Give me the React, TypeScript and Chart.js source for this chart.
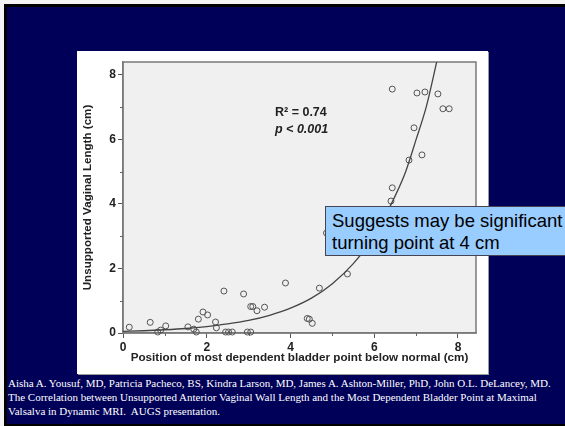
import React, { useEffect, useRef } from 'react';
import { Chart, registerables } from 'chart.js';

Chart.register(...registerables);

// Scatter data (cm)
const pointX = [0.15, 0.65, 0.83, 0.9, 1.02, 1.55, 1.69, 1.75, 1.8, 1.91, 2.02, 2.21, 2.23, 2.41, 2.45, 2.52, 2.61, 2.88, 2.97, 3.05, 3.05, 3.1, 3.2, 3.38, 3.88, 4.4, 4.45, 4.52, 4.69, 4.86, 5.36, 6.4, 6.43, 6.43, 6.83, 6.95, 7.02, 7.14, 7.21, 7.52, 7.64, 7.79];
const pointY = [0.18, 0.33, 0.03, 0.09, 0.22, 0.19, 0.12, 0.03, 0.43, 0.65, 0.56, 0.34, 0.16, 1.3, 0.03, 0.03, 0.03, 1.21, 0.03, 0.03, 0.82, 0.82, 0.69, 0.8, 1.55, 0.45, 0.43, 0.3, 1.39, 3.1, 1.83, 4.09, 4.5, 7.56, 5.36, 6.36, 7.44, 5.52, 7.47, 7.41, 6.95, 6.95];

// Fitted curve
const curveX = [0, 0.5, 1, 1.5, 2, 2.5, 3, 3.5, 4, 4.5, 5, 5.5, 6, 6.25, 6.5, 6.75, 7, 7.25, 7.5, 7.6];
const curveY = [0.05, 0.07, 0.1, 0.14, 0.2, 0.28, 0.39, 0.55, 0.77, 1.08, 1.53, 2.15, 3.0, 3.6, 4.25, 5.0, 6.0, 7.05, 8.45, 9.0];

const xTicks = [0, 2, 4, 6, 8];
const yTicks = [0, 2, 4, 6, 8];
const xMinorTicks = [1, 3, 5, 7];
const yMinorTicks = [1, 3, 5, 7];

const xTitle = 'Position of most dependent bladder point below normal (cm)';
const yTitle = 'Unsupported Vaginal Length (cm)';
const statLine1 = 'R\u00B2 = 0.74';
const statLine2 = 'p < 0.001';
const calloutLines = ['Suggests may be significant', 'turning point at 4 cm'];
const citationLines = [
  'Aisha A. Yousuf, MD, Patricia Pacheco, BS, Kindra Larson, MD, James A. Ashton-Miller, PhD, John O.L. DeLancey, MD.',
  'The Correlation between Unsupported Anterior Vaginal Wall Length and the Most Dependent Bladder Point at Maximal',
  'Valsalva in Dynamic MRI.  AUGS presentation.',
];

const NAVY = '#000058';
const FRAME = '#7a7a7a';
const SANS = 'Arial, "Liberation Sans", sans-serif';

const framePlugin = {
  id: 'frameAndMinor',
  beforeDraw(chart: any) {
    const { ctx, chartArea } = chart;
    const { left, top, right, bottom } = chartArea;
    ctx.save();
    ctx.fillStyle = '#f0f0f0';
    ctx.fillRect(left, top, right - left, bottom - top);
    ctx.restore();
  },
  beforeDatasetsDraw(chart: any) {
    const { ctx, chartArea, scales } = chart;
    const { left, top, right, bottom } = chartArea;
    ctx.save();
    ctx.strokeStyle = FRAME;
    ctx.lineWidth = 1.5;
    ctx.strokeRect(left, top, right - left, bottom - top);
    ctx.strokeStyle = '#666';
    ctx.lineWidth = 1;
    ctx.beginPath();
    xMinorTicks.forEach((v) => {
      const px = Math.round(scales.x.getPixelForValue(v)) + 0.5;
      ctx.moveTo(px, bottom);
      ctx.lineTo(px, bottom + 3);
    });
    yMinorTicks.forEach((v) => {
      const py = Math.round(scales.y.getPixelForValue(v)) + 0.5;
      ctx.moveTo(left, py);
      ctx.lineTo(left - 3, py);
    });
    ctx.stroke();
    ctx.restore();
  },
};

function ScatterChart() {
  const ref = useRef<HTMLCanvasElement | null>(null);
  useEffect(() => {
    if (!ref.current) return;
    const chart = new Chart(ref.current, {
      type: 'scatter',
      data: {
        datasets: [
          {
            type: 'line',
            data: curveX.map((x, i) => ({ x, y: curveY[i] })),
            borderColor: '#444',
            borderWidth: 1.3,
            pointRadius: 0,
            cubicInterpolationMode: 'monotone',
            fill: false,
          } as any,
          {
            data: pointX.map((x, i) => ({ x, y: pointY[i] })),
            pointRadius: 3,
            pointStyle: 'circle',
            borderColor: '#555',
            borderWidth: 1,
            backgroundColor: 'rgba(0,0,0,0)',
            clip: 6,
          } as any,
        ],
      },
      options: {
        animation: false,
        responsive: false,
        layout: { padding: { top: 11, right: 12, left: 0, bottom: 0 } },
        plugins: { legend: { display: false }, tooltip: { enabled: false } },
        scales: {
          x: {
            type: 'linear',
            min: 0,
            max: 8.43,
            afterBuildTicks: (scale: any) => {
              scale.ticks = xTicks.map((v) => ({ value: v }));
            },
            afterFit: (scale: any) => {
              scale.height = 41;
            },
            grid: { drawOnChartArea: false, drawTicks: true, tickLength: 5, color: '#555' },
            border: { display: true, color: FRAME, width: 1.5 },
            ticks: {
              padding: 2,
              color: '#222',
              font: { family: SANS, size: 12, weight: 'bold' },
            },
            title: {
              display: true,
              text: xTitle,
              color: '#222',
              padding: { top: 0, bottom: 9 },
              font: { family: SANS, size: 11.7, weight: 'bold' },
            },
          },
          y: {
            type: 'linear',
            min: 0,
            max: 8.4,
            afterBuildTicks: (scale: any) => {
              scale.ticks = yTicks.map((v) => ({ value: v }));
            },
            afterFit: (scale: any) => {
              scale.width = 46;
            },
            grid: { drawOnChartArea: false, drawTicks: true, tickLength: 5, color: '#555' },
            border: { display: true, color: FRAME, width: 1.5 },
            ticks: {
              padding: 2,
              color: '#222',
              font: { family: SANS, size: 12, weight: 'bold' },
            },
            title: {
              display: true,
              text: yTitle,
              color: '#222',
              padding: { top: 4, bottom: 0 },
              font: { family: SANS, size: 11.6, weight: 'bold' },
            },
          },
        },
      } as any,
      plugins: [framePlugin],
    });
    return () => chart.destroy();
  }, []);
  return <canvas ref={ref} width={411} height={323} style={{ display: 'block', width: 411, height: 323 }} />;
}

export default function App() {
  return (
    <div style={{ position: 'fixed', left: 0, top: 0, width: 565, height: 426, background: '#f4f4f4', overflow: 'hidden' }}>
      <div
        style={{
          position: 'absolute',
          left: 4,
          top: 4,
          width: 561,
          height: 422,
          boxSizing: 'border-box',
          background: NAVY,
          borderLeft: '3px solid #000',
          borderTop: '3px solid #000',
          borderBottom: '2px solid #000',
        }}
      />
      <div
        style={{
          position: 'absolute',
          left: 77,
          top: 51,
          width: 411,
          height: 323,
          background: '#fff',
          boxShadow: '1px 1px 0 #9a9a9a',
        }}
      >
        <ScatterChart />
      </div>
      <div
        style={{
          position: 'absolute',
          left: 275,
          top: 104,
          fontFamily: SANS,
          fontWeight: 'bold',
          fontSize: 12.5,
          lineHeight: '17px',
          color: '#222',
          whiteSpace: 'nowrap',
        }}
      >
        <div>{statLine1}</div>
        <div style={{ fontStyle: 'italic' }}>{statLine2}</div>
      </div>
      <div
        style={{
          position: 'absolute',
          left: 325,
          top: 206,
          width: 260,
          height: 50,
          boxSizing: 'border-box',
          background: '#99ccff',
          border: '1px solid #445',
          paddingLeft: 6,
          paddingTop: 3,
          fontFamily: SANS,
          fontSize: 18.5,
          lineHeight: '22px',
          color: '#000',
          whiteSpace: 'nowrap',
        }}
      >
        {calloutLines.map((l, i) => (
          <div key={i}>{l}</div>
        ))}
      </div>
      <div
        style={{
          position: 'absolute',
          left: 8,
          top: 376,
          fontFamily: '"Times New Roman", "Liberation Serif", serif',
          fontSize: 11,
          lineHeight: '14px',
          color: '#fff',
          whiteSpace: 'pre',
        }}
      >
        {citationLines.map((l, i) => (
          <div key={i}>{l}</div>
        ))}
      </div>
    </div>
  );
}
